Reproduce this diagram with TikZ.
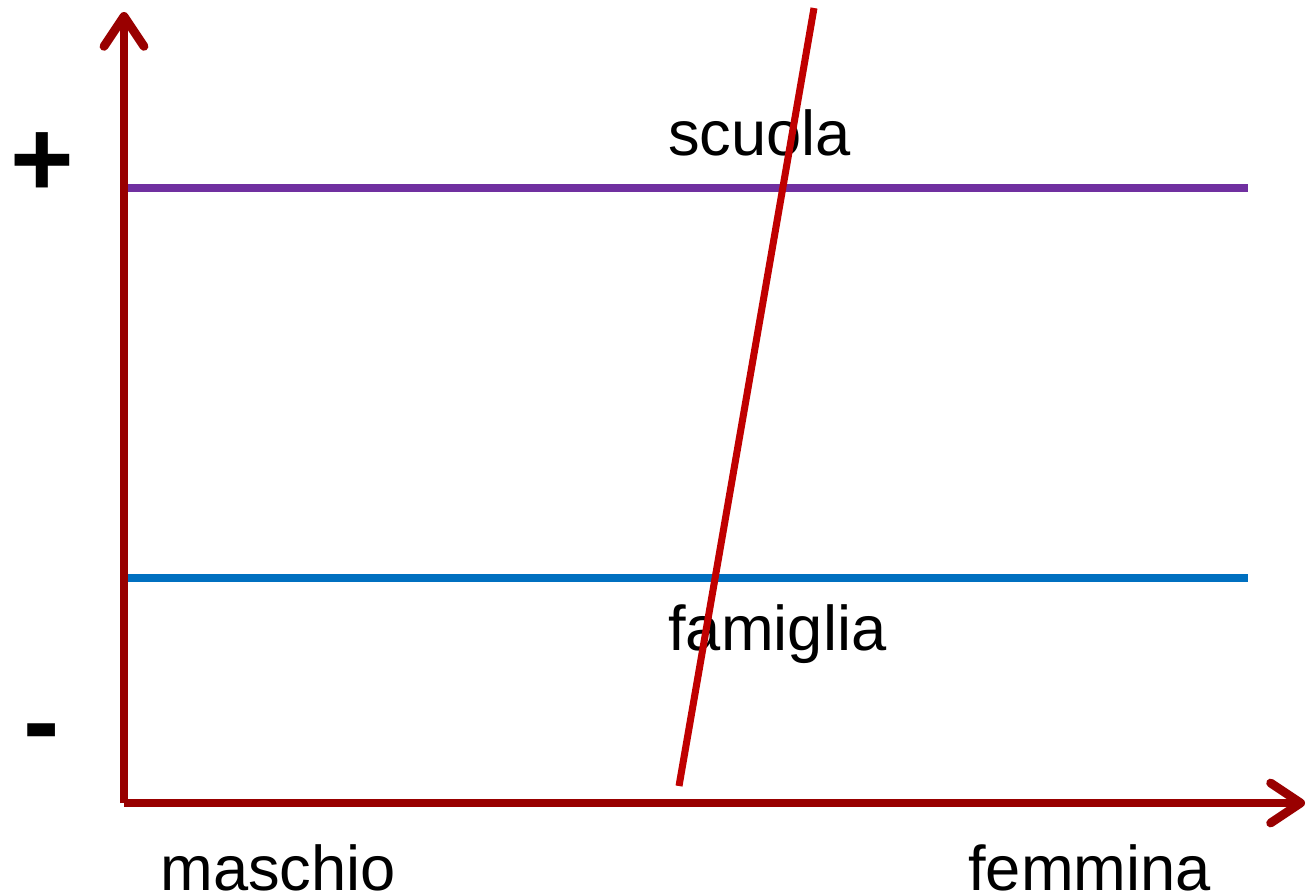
\documentclass[tikz,border=0pt]{standalone}
\usepackage{fontspec}
\setmainfont{Liberation Sans}
\usepackage{xcolor}
\usetikzlibrary{arrows.meta, positioning, calc}

\definecolor{axisred}{HTML}{990000}
\definecolor{trendred}{HTML}{C00000}
\definecolor{schoolviolet}{HTML}{7030A0}
\definecolor{familyblue}{HTML}{0070C0}

\begin{document}
\begin{tikzpicture}[
    x=0.02cm, y=-0.02cm,
    axis/.style={draw=axisred, line width=5pt, -{Straight Barb[round, length=0.6cm, width=0.8cm]}},
    level/.style={line width=4.5pt},
    trend/.style={draw=trendred, line width=4pt},
    label/.style={inner sep=0pt, anchor=base west, font=\fontsize{36}{43}\selectfont},
    sign/.style={inner sep=0pt, anchor=base, font=\fontsize{62}{72}\selectfont\bfseries}
  ]
  \useasboundingbox (0,0) rectangle (1311,894);

  % Coordinates
  \coordinate (o) at (124,803);
  \coordinate (ytop) at (124,12);
  \coordinate (xend) at (1305,803);
  \coordinate (s1) at (124,188);
  \coordinate (s2) at (1248,188);
  \coordinate (f1) at (124,578);
  \coordinate (f2) at (1248,578);
  \coordinate (d1) at (679,786);
  \coordinate (d2) at (814,8);

  % Nodes
  \node[label] (scuola) at (668,155) {scuola};
  \node[label] (famiglia) at (668,650) {famiglia};
  \node[label] (maschio) at (160,890) {maschio};
  \node[label] (femmina) at (968,890) {femmina};
  \node[sign] (plus) at (42,196) {+};
  \node[sign] (minus) at (42,758) {-};

  % Connections
  \draw[level, schoolviolet] (s1) -- (s2);
  \draw[level, familyblue] (f1) -- (f2);
  \draw[trend] (d1) -- (d2);
  \draw[axis] (o) -- (ytop);
  \draw[axis] (o) -- (xend);
\end{tikzpicture}
\end{document}
